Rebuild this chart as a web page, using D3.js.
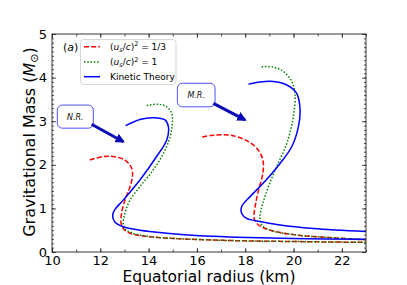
<!DOCTYPE html>
<html><head><meta charset="utf-8">
<script src="https://cdn.jsdelivr.net/npm/d3@7"></script>
<style>
html,body{margin:0;padding:0;background:#fff;}
svg{display:block;font-family:"DejaVu Sans",sans-serif;}
</style></head>
<body>
<svg id="c" width="407" height="285"></svg>
<script>
// ---- data ----
const xTicks = [10, 12, 14, 16, 18, 20, 22];
const yTicks = [0, 1, 2, 3, 4, 5];

// Non-rotating (N.R.) branch
const nrKinX = [13.05, 13.64, 14.2, 14.68, 14.82, 14.75, 14.33, 13.64, 12.95, 12.6, 12.51, 12.6, 12.95, 13.64, 14.75, 16.13, 17.62, 20.0, 23.0];
const nrKinY = [2.9, 3.04, 3.08, 3.03, 2.87, 2.57, 2.19, 1.65, 1.19, 0.97, 0.83, 0.69, 0.58, 0.5, 0.43, 0.37, 0.34, 0.31, 0.29];
const nrThirdX = [11.57, 12.12, 12.54, 13.02, 13.3, 13.33, 13.23, 13.02, 12.88, 12.86, 12.95, 13.23, 14.06, 15.44, 17.62, 20.0, 23.0];
const nrThirdY = [2.11, 2.19, 2.19, 2.11, 1.92, 1.73, 1.5, 1.19, 0.89, 0.66, 0.54, 0.43, 0.35, 0.3, 0.26, 0.24, 0.22];
const nrOneX = [13.92, 14.4, 14.75, 14.96, 14.98, 14.89, 14.61, 14.19, 13.64, 13.23, 13.02, 12.95, 13.0, 13.3, 14.06, 15.44, 17.62, 20.0, 23.0];
const nrOneY = [3.36, 3.39, 3.33, 3.18, 2.95, 2.64, 2.26, 1.88, 1.5, 1.19, 0.89, 0.66, 0.54, 0.44, 0.35, 0.3, 0.26, 0.24, 0.22];

// Maximally rotating (M.R.) branch
const mrKinX = [18.13, 18.61, 19.16, 19.72, 20.13, 20.27, 20.2, 19.93, 19.44, 18.75, 18.2, 17.85, 17.85, 18.06, 18.61, 19.44, 20.82, 23.0];
const mrKinY = [3.85, 3.9, 3.91, 3.83, 3.64, 3.26, 2.87, 2.42, 2.03, 1.58, 1.27, 1.04, 0.89, 0.77, 0.7, 0.62, 0.54, 0.47];
const mrThirdX = [16.22, 16.68, 17.37, 18.0, 18.48, 18.73, 18.73, 18.55, 18.41, 18.37, 18.55, 19.03, 20.13, 21.51, 23.0];
const mrThirdY = [2.64, 2.68, 2.68, 2.57, 2.38, 2.11, 1.8, 1.42, 1.04, 0.77, 0.62, 0.5, 0.39, 0.33, 0.28];
const mrOneX = [18.68, 19.16, 19.58, 19.93, 20.06, 19.99, 19.72, 19.3, 18.96, 18.73, 18.61, 18.68, 19.03, 20.13, 21.51, 23.0];
const mrOneY = [4.25, 4.24, 4.14, 3.91, 3.64, 3.1, 2.49, 1.96, 1.5, 1.12, 0.81, 0.62, 0.5, 0.39, 0.33, 0.28];

// annotations
const annLabels = ["N.R.", "M.R."];
const annBox = [[10.22, 11.71, 3.37, 2.84], [15.19, 16.75, 3.87, 3.33]];
const annArrow = [[11.64, 2.93, 12.95, 2.53], [16.68, 3.41, 17.99, 3.03]];

// ---- drawing ----
const svg = d3.select("#c");
const L = 52, R = 366, T = 34, B = 252;
const x = d3.scaleLinear().domain([10, 23]).range([L, R]);
const y = d3.scaleLinear().domain([0, 5]).range([B, T]);

const defs = svg.append("defs");
defs.append("clipPath").attr("id", "clip").append("rect")
  .attr("x", L).attr("y", T).attr("width", R - L).attr("height", B - T);
defs.append("marker").attr("id", "ah").attr("viewBox", "0 0 10 10")
  .attr("refX", 8).attr("refY", 5).attr("markerWidth", 3.2).attr("markerHeight", 3.2)
  .attr("markerUnits", "strokeWidth").attr("orient", "auto")
  .append("path").attr("d", "M0,0 L10,5 L0,10 Z").attr("fill", "#0a0ab8");

const zip = (xs, ys) => xs.map((v, i) => [v, ys[i]]);
const line = d3.line().x(d => x(d[0])).y(d => y(d[1])).curve(d3.curveCatmullRom.alpha(0.5));

const g = svg.append("g").attr("clip-path", "url(#clip)");
const series = [
  {d: zip(nrThirdX, nrThirdY), c: "#ff0000", dash: "5,2.2"},
  {d: zip(mrThirdX, mrThirdY), c: "#ff0000", dash: "5,2.2"},
  {d: zip(nrOneX, nrOneY), c: "#008000", dash: "1.5,1.8"},
  {d: zip(mrOneX, mrOneY), c: "#008000", dash: "1.5,1.8"},
  {d: zip(nrKinX, nrKinY), c: "#0000ff", dash: null},
  {d: zip(mrKinX, mrKinY), c: "#0000ff", dash: null}
];
series.forEach(s => {
  g.append("path").attr("d", line(s.d)).attr("fill", "none")
    .attr("stroke", s.c).attr("stroke-width", 1.5)
    .attr("stroke-dasharray", s.dash);
});

// axes
const tickColor = "#222";
function styleAxis(sel) {
  sel.select(".domain").remove();
  sel.selectAll("line").attr("stroke", tickColor).attr("stroke-width", 0.8);
  sel.selectAll("text").attr("font-family", "DejaVu Sans").attr("fill", "#000");
}
const xMinor = d3.range(10, 23.01, 1);
const yMinor = d3.range(0, 5.001, 0.1);

svg.append("g").attr("transform", `translate(0,${B})`)
  .call(d3.axisBottom(x).tickValues(xMinor).tickSize(-2.5).tickFormat("")).call(styleAxis);
svg.append("g").attr("transform", `translate(0,${T})`)
  .call(d3.axisTop(x).tickValues(xMinor).tickSize(-2.5).tickFormat("")).call(styleAxis);
svg.append("g").attr("transform", `translate(${L},0)`)
  .call(d3.axisLeft(y).tickValues(yMinor).tickSize(-2).tickFormat("")).call(styleAxis);
svg.append("g").attr("transform", `translate(${R},0)`)
  .call(d3.axisRight(y).tickValues(yMinor).tickSize(-2).tickFormat("")).call(styleAxis);

const xb = svg.append("g").attr("transform", `translate(0,${B})`)
  .call(d3.axisBottom(x).tickValues(xTicks).tickSize(-4).tickPadding(4).tickFormat(d3.format("d")));
styleAxis(xb); xb.selectAll("text").attr("font-size", 13);
svg.append("g").attr("transform", `translate(0,${T})`)
  .call(d3.axisTop(x).tickValues(xTicks).tickSize(-4).tickFormat("")).call(styleAxis);
const yl = svg.append("g").attr("transform", `translate(${L},0)`)
  .call(d3.axisLeft(y).tickValues(yTicks).tickSize(-4).tickPadding(5).tickFormat(d3.format("d")));
styleAxis(yl); yl.selectAll("text").attr("font-size", 13);
svg.append("g").attr("transform", `translate(${R},0)`)
  .call(d3.axisRight(y).tickValues(yTicks).tickSize(-4).tickFormat("")).call(styleAxis);

svg.append("rect").attr("x", L).attr("y", T).attr("width", R - L).attr("height", B - T)
  .attr("fill", "none").attr("stroke", "#222").attr("stroke-width", 0.9);

// axis titles
svg.append("text").attr("x", (L + R) / 2).attr("y", 282).attr("text-anchor", "middle")
  .attr("font-size", 15.5).text("Equatorial radius (km)");
const yt = svg.append("text").attr("transform", `translate(35,${(T + B) / 2 - 1}) rotate(-90)`)
  .attr("text-anchor", "middle").attr("font-size", 16);
yt.append("tspan").text("Gravitational Mass (");
yt.append("tspan").attr("font-style", "italic").text("M");
yt.append("tspan").attr("font-size", 11).attr("dy", 3).text("⊙");
yt.append("tspan").attr("dy", -3).text(")");

// annotations
annLabels.forEach((lab, i) => {
  const b = annBox[i], a = annArrow[i];
  svg.append("rect").attr("x", x(b[0])).attr("y", y(b[2]))
    .attr("width", x(b[1]) - x(b[0])).attr("height", y(b[3]) - y(b[2]))
    .attr("rx", 5).attr("fill", "#fff").attr("stroke", "#5050ff").attr("stroke-width", 1);
  svg.append("text").attr("x", (x(b[0]) + x(b[1])) / 2).attr("y", (y(b[2]) + y(b[3])) / 2 + 3)
    .attr("text-anchor", "middle").attr("font-size", 8).attr("font-style", "italic")
    .attr("fill", "#111").text(lab);
  svg.append("line").attr("x1", x(a[0])).attr("y1", y(a[1])).attr("x2", x(a[2])).attr("y2", y(a[3]))
    .attr("stroke", "#0a0ab8").attr("stroke-width", 3).attr("marker-end", "url(#ah)");
});

// panel label
svg.append("text").attr("x", 63).attr("y", 51).attr("font-size", 11)
  .html('(<tspan font-style="italic">a</tspan>)');

// legend
const lg = svg.append("g");
lg.append("rect").attr("x", 80.5).attr("y", 39.5).attr("width", 95.5).attr("height", 45)
  .attr("rx", 3).attr("fill", "#fff").attr("fill-opacity", 0.85).attr("stroke", "#ccc").attr("stroke-width", 0.8);
const legRows = [
  {c: "#ff0000", dash: "5,2.2", rhs: "1/3"},
  {c: "#008000", dash: "1.5,1.8", rhs: "1"},
  {c: "#0000ff", dash: null, rhs: null}
];
const rowY = [46.7, 62, 76.7];
legRows.forEach((r, i) => {
  lg.append("line").attr("x1", 84).attr("x2", 100).attr("y1", rowY[i]).attr("y2", rowY[i])
    .attr("stroke", r.c).attr("stroke-width", 1.5).attr("stroke-dasharray", r.dash);
  const t = lg.append("text").attr("x", 110).attr("y", rowY[i] + 3.2).attr("font-size", 9);
  if (r.rhs === null) { t.text("Kinetic Theory"); return; }
  t.append("tspan").text("(");
  t.append("tspan").attr("font-style", "italic").text("u");
  t.append("tspan").attr("font-style", "italic").attr("font-size", 6.5).attr("dy", 2).text("s");
  t.append("tspan").attr("dy", -2).text("/");
  t.append("tspan").attr("font-style", "italic").text("c");
  t.append("tspan").text(")");
  t.append("tspan").attr("font-size", 6.5).attr("dy", -3.5).text("2");
  t.append("tspan").attr("dy", 3.5).text(" = " + r.rhs);
});
</script>
</body></html>
